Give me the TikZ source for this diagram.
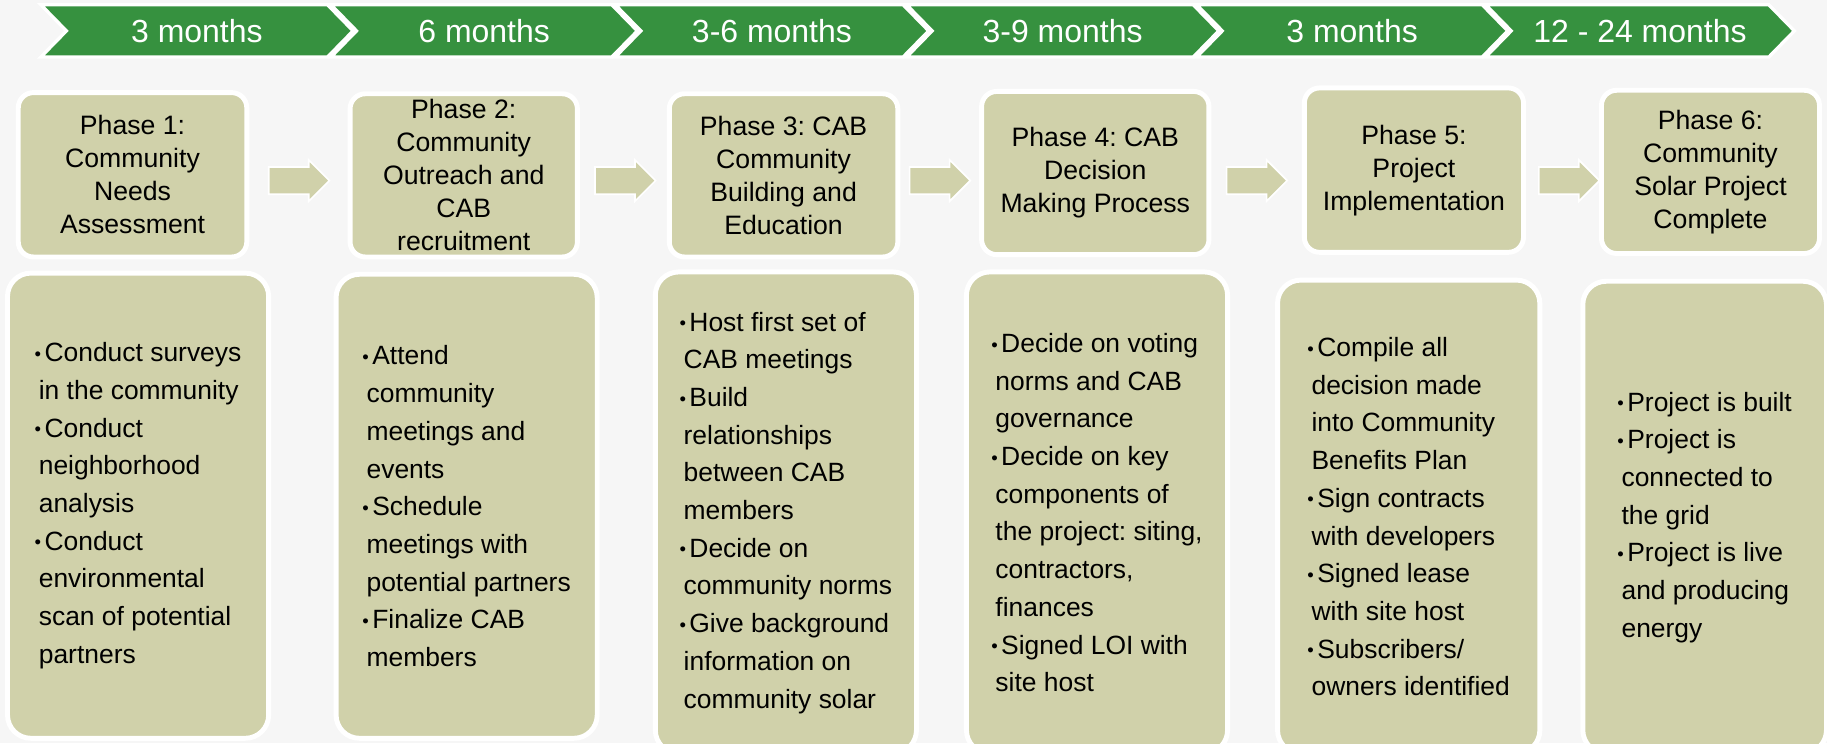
\documentclass[tikz,border=0pt]{standalone}
\usepackage{fontspec}
\usepackage{graphicx}
\setmainfont{Liberation Sans}
\usetikzlibrary{shapes.arrows}

\definecolor{stagegreen}{HTML}{36913F}
\definecolor{khaki}{HTML}{D0D1AA}
\definecolor{paper}{HTML}{F6F6F6}

% bullet and hanging indent for the task lists
\newcommand{\itm}{\makebox[2.4pt][l]{\raisebox{0.35pt}{\scalebox{0.7}{\textbullet}}}}
\newcommand{\cnt}{\hspace*{1pt}}

\begin{document}
\frenchspacing
\begin{tikzpicture}[x=0.01cm, y=-0.01cm,
    chevron/.style={fill=stagegreen, draw=white, line width=0.8pt},
    monthlabel/.style={text=white, inner sep=0pt, font=\fontsize{7.8}{9}\selectfont},
    phasebox/.style={fill=khaki, draw=white, line width=1.2pt, rounded corners=0.13cm,
        align=center, inner sep=0pt, font=\fontsize{6.5}{8.05}\selectfont},
    detailbox/.style={fill=khaki, draw=white, line width=1.2pt, rounded corners=0.2cm,
        align=left, inner sep=0pt, font=\fontsize{6.45}{9.2}\selectfont},
    flowarrow/.style={single arrow, fill=khaki, draw=white, line width=0.4pt, anchor=tail,
        inner xsep=0pt, inner ysep=0.11cm, minimum height=0.52cm, single arrow head extend=0.06cm}]
    % Page and background
    \useasboundingbox (0,0) rectangle (1568,638);
    \fill[paper] (0,0) rectangle (1568,638);

    % Timeline chevrons
    \draw[chevron] (35,4) -- (281,4) -- (303,26.5) -- (281,49) -- (35,49) -- (57,26.5) -- cycle;
    \draw[chevron] (284,4) -- (525,4) -- (547,26.5) -- (525,49) -- (284,49) -- (306,26.5) -- cycle;
    \draw[chevron] (528,4) -- (775,4) -- (797,26.5) -- (775,49) -- (528,49) -- (550,26.5) -- cycle;
    \draw[chevron] (778,4) -- (1024,4) -- (1046,26.5) -- (1024,49) -- (778,49) -- (800,26.5) -- cycle;
    \draw[chevron] (1027,4) -- (1272,4) -- (1294,26.5) -- (1272,49) -- (1027,49) -- (1049,26.5) -- cycle;
    \draw[chevron] (1275,4) -- (1518,4) -- (1540,26.5) -- (1518,49) -- (1275,49) -- (1297,26.5) -- cycle;

    \node[monthlabel] (m1) at (169,27) {3 months};
    \node[monthlabel] (m2) at (415.5,27) {6 months};
    \node[monthlabel] (m3) at (662.5,27) {3-6 months};
    \node[monthlabel] (m4) at (912,27) {3-9 months};
    \node[monthlabel] (m5) at (1160.5,27) {3 months};
    \node[monthlabel] (m6) at (1407.5,27) {12 - 24 months};

    % Phase boxes
    \node[phasebox, minimum width=1.96cm, minimum height=1.41cm] (p1) at (113.75,150)
        {Phase 1:\\Community\\Needs\\Assessment};
    \node[phasebox, minimum width=1.95cm, minimum height=1.40cm] (p2) at (398,150.5)
        {Phase 2:\\Community\\Outreach and\\CAB\\recruitment};
    \node[phasebox, minimum width=1.96cm, minimum height=1.40cm] (p3) at (672.5,150.5)
        {Phase 3: CAB\\Community\\Building and\\Education};
    \node[phasebox, minimum width=1.95cm, minimum height=1.40cm] (p4) at (940,148.5)
        {Phase 4: CAB\\Decision\\Making Process};
    \node[phasebox, minimum width=1.88cm, minimum height=1.41cm] (p5) at (1213.5,146)
        {Phase 5:\\Project\\Implementation};
    \node[phasebox, minimum width=1.87cm, minimum height=1.40cm] (p6) at (1468,147.5)
        {Phase 6:\\Community\\Solar Project\\Complete};

    % Arrows between phases
    \node[flowarrow] (a1) at (230,155) {};
    \node[flowarrow] (a2) at (510,155) {};
    \node[flowarrow] (a3) at (780,155) {};
    \node[flowarrow] (a4) at (1052,155) {};
    \node[flowarrow] (a5) at (1320,155) {};

    % Task lists
    \node[detailbox, minimum width=2.24cm, minimum height=3.99cm] (b1) at (118.5,434)
        {\itm Conduct surveys\\\cnt in the community\\\itm Conduct\\\cnt neighborhood\\\cnt analysis\\
         \itm Conduct\\\cnt environmental\\\cnt scan of potential\\\cnt partners};
    \node[detailbox, minimum width=2.24cm, minimum height=3.98cm] (b2) at (400.5,434.5)
        {\itm Attend\\\cnt community\\\cnt meetings and\\\cnt events\\\itm Schedule\\
         \cnt meetings with\\\cnt potential partners\\\itm Finalize CAB\\\cnt members};
    \node[detailbox, minimum width=2.24cm, minimum height=4.13cm] (b3) at (674.5,440)
        {\itm Host first set of\\\cnt CAB meetings\\\itm Build\\\cnt relationships\\\cnt between CAB\\
         \cnt members\\\itm Decide on\\\cnt community norms\\\itm Give background\\
         \cnt information on\\\cnt community solar};
    \node[detailbox, minimum width=2.24cm, minimum height=4.13cm] (b4) at (941.5,440)
        {\itm Decide on voting\\\cnt norms and CAB\\\cnt governance\\\itm Decide on key\\
         \cnt components of\\\cnt the project: siting,\\\cnt contractors,\\\cnt finances\\
         \itm Signed LOI with\\\cnt site host};
    \node[detailbox, minimum width=2.25cm, minimum height=4.06cm] (b5) at (1209,443.5)
        {\itm Compile all\\\cnt decision made\\\cnt into Community\\\cnt Benefits Plan\\
         \itm Sign contracts\\\cnt with developers\\\itm Signed lease\\\cnt with site host\\
         \itm Subscribers/\\\cnt owners identified};
    \node[detailbox, minimum width=2.09cm, minimum height=4.05cm] (b6) at (1463,444)
        {\itm Project is built\\\itm Project is\\\cnt connected to\\\cnt the grid\\
         \itm Project is live\\\cnt and producing\\\cnt energy};
\end{tikzpicture}
\end{document}
